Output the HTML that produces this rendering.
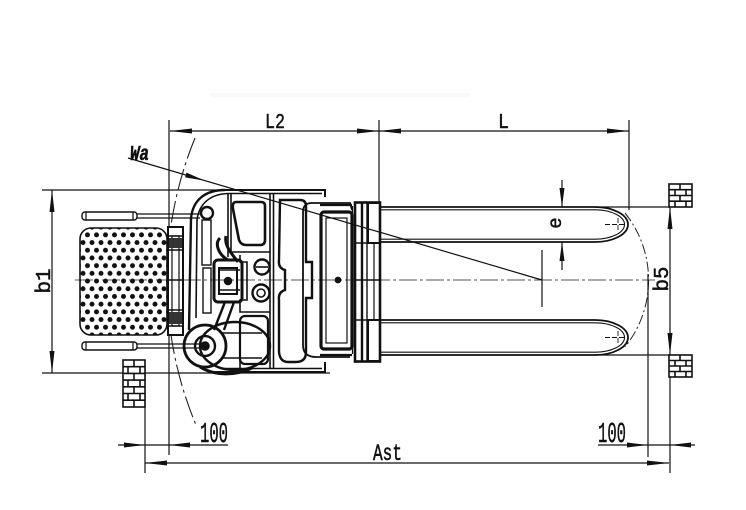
<!DOCTYPE html>
<html><head><meta charset="utf-8">
<style>
html,body{margin:0;padding:0;background:#fff;}
svg{display:block;}
text{font-family:"Liberation Mono","DejaVu Sans Mono",monospace;fill:#111;stroke:#111;stroke-width:0.5;}
</style></head><body>
<svg width="746" height="510" viewBox="0 0 746 510" xmlns="http://www.w3.org/2000/svg">
<defs>
<pattern id="dots" patternUnits="userSpaceOnUse" x="83" y="231" width="9" height="15.4">
<circle cx="4.5" cy="3.85" r="2.5" fill="#111"/>
<circle cx="0" cy="11.55" r="2.5" fill="#111"/>
<circle cx="9" cy="11.55" r="2.5" fill="#111"/>
</pattern>
</defs>
<rect width="746" height="510" fill="#fff"/>
<rect x="210" y="93" width="260" height="4" fill="#f9f9f9"/>

<!-- center line & arcs -->
<line x1="75" y1="280" x2="655" y2="280" stroke="#555" stroke-width="0.9" stroke-dasharray="18 3 3 3"/>
<path d="M195 138 A375 375 0 0 0 196 425" fill="none" stroke="#222" stroke-width="1.1" stroke-dasharray="22 4 3 4"/>
<path d="M625 213 A107 107 0 0 1 625 347" fill="none" stroke="#222" stroke-width="1" stroke-dasharray="10 3 2 3"/>

<!-- dimension lines -->
<g stroke="#111" stroke-width="1.2" fill="none">
<line x1="170" y1="131" x2="629" y2="131"/>
<line x1="169" y1="120" x2="169" y2="455"/>
<line x1="379" y1="120" x2="379" y2="203"/>
<line x1="629" y1="120" x2="629" y2="210"/>
<line x1="42" y1="190" x2="325" y2="190"/>
<line x1="42" y1="373" x2="330" y2="373"/>
<line x1="52" y1="190" x2="52" y2="373"/>
<line x1="595" y1="207" x2="670" y2="207"/>
<line x1="595" y1="355" x2="670" y2="355"/>
<line x1="670" y1="207" x2="670" y2="473"/>
<line x1="648" y1="274" x2="648" y2="457"/>
<line x1="145" y1="360" x2="145" y2="473"/>
<line x1="118" y1="445" x2="228" y2="445"/>
<line x1="145" y1="463" x2="669" y2="463"/>
<line x1="598" y1="445" x2="695" y2="445"/>
<line x1="562" y1="180" x2="562" y2="207"/>
<line x1="562" y1="242" x2="562" y2="270"/>
<line x1="128" y1="158" x2="542" y2="280"/>
<line x1="542" y1="250" x2="542" y2="307"/>
</g>

<!-- arrowheads -->
<g fill="#111">
<polygon points="170,131 192,128.5 192,133.5"/>
<polygon points="379,131 357,128.5 357,133.5"/>
<polygon points="379,131 401,128.5 401,133.5"/>
<polygon points="629,131 607,128.5 607,133.5"/>
<polygon points="52,190 49.5,212 54.5,212"/>
<polygon points="52,373 49.5,351 54.5,351"/>
<polygon points="670,207 667.5,229 672.5,229"/>
<polygon points="670,355 667.5,333 672.5,333"/>
<polygon points="562,207 559.5,188 564.5,188"/>
<polygon points="562,242 559.5,261 564.5,261"/>
<polygon points="145,445 124,442.5 124,447.5"/>
<polygon points="169,445 190,442.5 190,447.5"/>
<polygon points="145,463 167,460.5 167,465.5"/>
<polygon points="669,463 647,460.5 647,465.5"/>
<polygon points="648,445 627,442.5 627,447.5"/>
<polygon points="670,445 691,442.5 691,447.5"/>
<polygon points="205,180.7 185.1,177.4 186.5,172.6"/>
</g>

<!-- labels -->
<text x="265" y="128" font-size="21" textLength="20" lengthAdjust="spacingAndGlyphs">L2</text>
<text x="498" y="128" font-size="21" textLength="11" lengthAdjust="spacingAndGlyphs">L</text>
<text x="130" y="160" font-size="21" font-weight="bold" font-style="italic" textLength="19" lengthAdjust="spacingAndGlyphs">Wa</text>
<text x="200" y="442" font-size="29" textLength="28" lengthAdjust="spacingAndGlyphs">100</text>
<text x="598" y="442" font-size="29" textLength="28" lengthAdjust="spacingAndGlyphs">100</text>
<text x="373" y="460" font-size="23" textLength="29" lengthAdjust="spacingAndGlyphs">Ast</text>
<text transform="translate(50,281) rotate(-90)" font-size="21" text-anchor="middle" textLength="25" lengthAdjust="spacingAndGlyphs">b1</text>
<text transform="translate(668,279) rotate(-90)" font-size="21" text-anchor="middle" textLength="25" lengthAdjust="spacingAndGlyphs">b5</text>
<text transform="translate(561,223) rotate(-90)" font-size="19" text-anchor="middle">e</text>

<!-- bricks -->
<g stroke="#111" stroke-width="1.6" fill="#fff">
<rect x="123" y="360" width="22" height="47"/>
<rect x="669" y="184" width="23" height="23"/>
<rect x="669" y="355" width="23" height="22"/>
</g>
<g stroke="#111" stroke-width="1.6" fill="none">
<path d="M123 366.7H145M123 373.4H145M123 380.1H145M123 386.8H145M123 393.5H145M123 400.2H145"/>
<path d="M134 360V366.7M128 366.7V373.4M140 366.7V373.4M134 373.4V380.1M128 380.1V386.8M140 380.1V386.8M134 386.8V393.5M128 393.5V400.2M140 393.5V400.2M134 400.2V407"/>
<path d="M669 189.7H692M669 195.5H692M669 201.2H692M680 184V189.7M675 189.7V195.5M686 189.7V195.5M680 195.5V201.2M675 201.2V207M686 201.2V207"/>
<path d="M669 360.5H692M669 366H692M669 371.5H692M680 355V360.5M675 360.5V366M686 360.5V366M680 366V371.5M675 371.5V377M686 371.5V377"/>
</g>

<!-- platform -->
<rect x="80" y="228" width="87" height="107" rx="11" fill="url(#dots)" stroke="#111" stroke-width="1.6"/>
<!-- rails -->
<g stroke="#111" stroke-width="1.4" fill="#fff">
<rect x="82" y="212" width="55" height="8" rx="3"/>
<rect x="82" y="342" width="55" height="8" rx="3"/>
</g>
<g stroke="#111" stroke-width="1.2" fill="none">
<path d="M86 212V220M133 212V220M86 342V350M133 342V350"/>
<path d="M137 214H200M137 218H200M137 344H200M137 348H200"/>
</g>
<!-- connector piece -->
<rect x="168" y="227" width="15" height="108" fill="#fff" stroke="#111" stroke-width="2"/>
<rect x="172" y="236" width="7" height="90" fill="none" stroke="#111" stroke-width="1.2"/>
<g stroke="#111" stroke-width="1.4">
<path d="M168 236H183M168 243H183M168 250H183M168 310H183M168 318H183M168 326H183M168 280H183"/>
</g>
<rect x="169" y="238" width="13" height="10" fill="#333"/>
<rect x="169" y="312" width="13" height="12" fill="#333"/>

<!-- body -->
<g stroke="#111" fill="none" stroke-width="1.6">
<path d="M225 190 L325 190 L325 197" stroke-width="2"/>
<path d="M228 193.5 L322 193.5"/>
<path d="M225 190 C205 190 193 200 191 218 L189 330" stroke-width="2.4"/>
<path d="M228 193.5 C210 194 199 204 197 220 L196 318"/>
<path d="M215 372 L325 372 L325 362" stroke-width="2"/>
<path d="M220 368.5 L322 368.5"/>
<line x1="228" y1="193" x2="228" y2="257"/>
<line x1="231" y1="193" x2="231" y2="252"/>
<line x1="270" y1="193" x2="270" y2="369"/>
<line x1="273.5" y1="193" x2="273.5" y2="369"/>
<path d="M236 202 L261 202 Q265 202 265 206 L265 240 Q265 245 260 245 L246 245 Q241 245 239 240 L233 209 Q232 202 236 202 Z" stroke-width="2.6"/>
<path d="M231 252 L270 252"/>
<path d="M240 255 L240 262 L247 262 L247 300 L240 300 L240 312 L270 312"/>
<circle cx="262" cy="267" r="7.5" stroke-width="2.4"/>
<line x1="256" y1="267" x2="268" y2="267"/>
<circle cx="261" cy="293" r="8.5" stroke-width="2.4"/>
<circle cx="261" cy="293" r="4" stroke-width="1.6"/>
<rect x="240" y="316" width="28" height="48" rx="5" stroke-width="2.2"/>
<circle cx="207" cy="213" r="6" stroke-width="2.4"/>
<rect x="202" y="220" width="9" height="45" stroke-width="1.4"/>
<rect x="203" y="268" width="8" height="45" stroke-width="1.4"/>
<path d="M220 238 C214 244 219 255 228 260 M226 236 C224 246 232 254 238 262" stroke-width="3"/>
<rect x="214" y="260" width="28" height="42" rx="4" stroke-width="3"/>
<rect x="219" y="268" width="18" height="26" stroke-width="2"/>
<circle cx="228" cy="281" r="3.5" fill="#111"/>
<path d="M218 270 H240 M218 290 H240" stroke-width="1.4"/>
<path d="M225 302 L214 330 M234 302 L224 330" stroke-width="2.4"/>
<ellipse cx="235" cy="346" rx="35" ry="24" stroke-width="2.4"/>
<circle cx="205" cy="346" r="21" stroke-width="2.8"/>
<circle cx="205" cy="346" r="10" stroke-width="2.4"/>
<circle cx="205" cy="346" r="4" fill="#111"/>
<path d="M222 333 L262 333 M222 358 L262 358 M240 323 L240 368" stroke-width="1.6"/>
<path d="M200 367 C215 376 235 376 252 368" stroke-width="3"/>
<path d="M280 200 L300 200 Q306 200 306 206 L306 262 L312 262 L312 298 L306 298 L306 352 Q306 362 296 362 L288 362 Q280 362 279 352 L279 300 Q278 292 285 290 L285 270 Q278 268 279 260 Z" stroke-width="2.4"/>
<path d="M303 212 Q303 203 312 203 L350 203 L352 210 M303 212 L303 345 Q303 357 316 357 L350 357" stroke-width="1.8"/>
<rect x="321" y="212" width="31" height="137" rx="3" stroke-width="3.2"/>
<rect x="326" y="218" width="21" height="125" stroke-width="1.2"/>
<path d="M320 205 H352 M320 355 H352" stroke-width="2.2"/>
<circle cx="338" cy="280" r="2.6" fill="#111"/>
<line x1="352.5" y1="206" x2="352.5" y2="354" stroke-width="1.2"/>
</g>

<!-- carriage -->
<g stroke="#111" fill="none">
<rect x="355" y="202.5" width="25" height="159" stroke-width="2.6"/>
<line x1="362" y1="203" x2="362" y2="361" stroke-width="2.4"/>
<line x1="367" y1="203" x2="367" y2="361" stroke-width="1.4"/>
<rect x="368" y="203" width="12" height="40" stroke-width="2"/>
<rect x="368" y="320" width="12" height="41" stroke-width="2"/>
<line x1="374" y1="243" x2="374" y2="320" stroke-width="1.2"/>
<path d="M355 243H368M355 320H368M355 280H380" stroke-width="1.6"/>
</g>

<!-- forks -->
<g stroke="#111" fill="none">
<path d="M380 207 L595 207 A33 17.5 0 0 1 595 242 L380 242" stroke-width="1.8"/>
<path d="M380 209.8 L595 209.8 A29.5 14.7 0 0 1 595 239.2 L380 239.2" stroke-width="1.1"/>
<path d="M380 320 L595 320 A33 17.5 0 0 1 595 355 L380 355" stroke-width="1.8"/>
<path d="M380 322.8 L595 322.8 A29.5 14.7 0 0 1 595 352.2 L380 352.2" stroke-width="1.1"/>
<path d="M605 224.5H624M618 218V231M605 337.5H624M618 331V344" stroke-width="0.9" stroke-dasharray="5 2"/>
</g>
</svg>
</body></html>
